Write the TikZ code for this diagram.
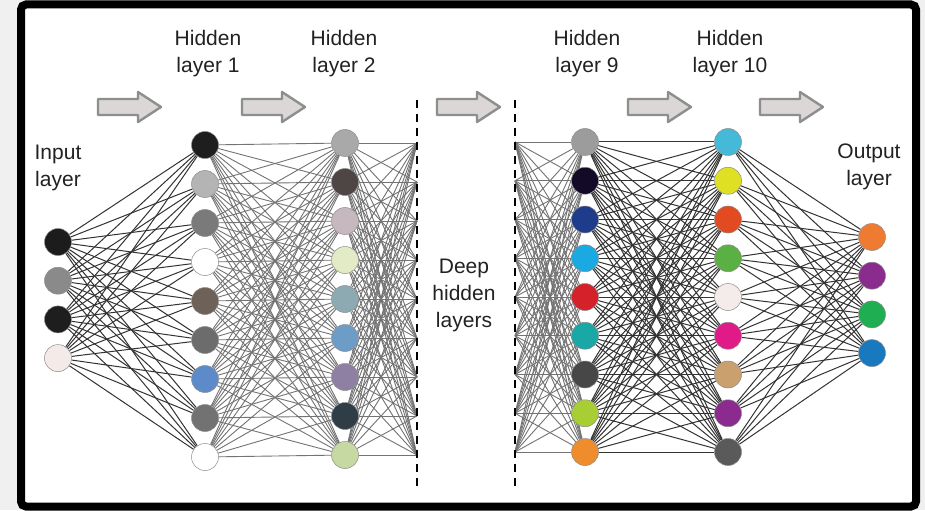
\documentclass[tikz,border=0pt]{standalone}
\usepackage{fontspec}
\setmainfont{Liberation Sans}
\usetikzlibrary{backgrounds}
\definecolor{outside}{HTML}{F0F0F0}
\definecolor{arrowfill}{HTML}{DCD7D7}
\definecolor{arrowedge}{HTML}{8E8E8E}
\definecolor{labeltext}{HTML}{222222}
\tikzset{
	ncol/.code={\definecolor{ncolor}{HTML}{#1}\tikzset{fill=ncolor}},
	neuron/.style={circle,minimum size=27pt,inner sep=0pt,draw=black!45,line width=0.5pt,ncol=#1},
	link/.style={black!80,line width=1pt},
	faint/.style={black!55,line width=0.9pt},
	flow/.style={fill=arrowfill,draw=arrowedge,line width=2.4pt,line join=round},
	lbl/.style={font=\fontsize{21}{27}\selectfont,align=center,text=labeltext}
}
\begin{document}
\begin{tikzpicture}[x=1pt,y=-1pt]
		%Pfeile oben
		\foreach \x in {98,242,437,628,760}
			\draw[flow] (\x,99) -- ++(40,0) -- ++(0,-7) -- ++(23,15) -- ++(-23,15) -- ++(0,-7) -- ++(-40,0) -- cycle;
		%Eingabeschicht
		\foreach \c [count=\i] in {1C1C1C,8A8A8A,1E1E1E,F4EBE8}
			\node[neuron=\c] (in\i) at (58,{242+38.7*(\i-1)}) {};
		%Hidden layer 1 und 2
		\foreach \c [count=\i] in {1E1E1E,B4B4B4,7A7A7A,FFFFFF,6E6258,6C6C6C,5D8BC9,727272,FFFFFF}
			\node[neuron=\c] (ha\i) at (205,{145+39*(\i-1)}) {};
		\foreach \c [count=\i] in {A9A9A9,4E4545,C7B7BF,E3EBC6,8DAAB2,6D9DC6,8E80A2,2F3D47,C6D9A2}
			\node[neuron=\c] (hb\i) at (345,{143+39*(\i-1)}) {};
		%Hidden layer 9 und 10
		\foreach \c [count=\i] in {9C9C9C,120A26,1F3C8C,1AA9E1,D5222A,19A8A6,474747,A7CF33,EF8C2B}
			\node[neuron=\c] (hc\i) at (585,{142+38.75*(\i-1)}) {};
		\foreach \c [count=\i] in {45B9D8,DFE024,E24B22,5BB043,F4ECEA,E01B88,C9A06E,8B2A8F,5A5A5A}
			\node[neuron=\c] (hd\i) at (728,{142+38.75*(\i-1)}) {};
		%Ausgabeschicht
		\foreach \c [count=\i] in {EF7A31,8A2B8E,1FAF52,1879BF}
			\node[neuron=\c] (out\i) at (872,{237+38.7*(\i-1)}) {};
		%Trennlinien
		\draw[line width=1.6pt,dash pattern=on 8pt off 6pt] (417,100) -- (417,486);
		\draw[line width=1.6pt,dash pattern=on 8pt off 6pt] (515,100) -- (515,486);
		\foreach \i in {1,...,9} {
			\coordinate (dl\i) at (417,{143+39*(\i-1)});
			\coordinate (dr\i) at (515,{142+38.75*(\i-1)});
		}
		%Rahmen und Verbindungen
		\begin{scope}[on background layer]
			\fill[outside] (0,0) rectangle (925,510);
			\fill[white] (21,4.5) rectangle (916,506.5);
			\draw[line width=8pt,rounded corners=5pt] (21,4.5) rectangle (916,506.5);
			\foreach \i in {1,...,4} \foreach \j in {1,...,9} \draw[link] (in\i) -- (ha\j);
			\foreach \i in {1,...,9} \foreach \j in {1,...,9} {
				\draw[faint] (ha\i) -- (hb\j);
				\draw[faint] (hb\i) -- (dl\j);
				\draw[faint] (dr\i) -- (hc\j);
				\draw[link] (hc\i) -- (hd\j);
			}
			\foreach \i in {1,...,9} \foreach \j in {1,...,4} \draw[link] (hd\i) -- (out\j);
		\end{scope}
		%Beschriftung
		\node[lbl] (tin) at (58,168) {Input\\layer};
		\node[lbl] (th1) at (208,54) {Hidden\\layer 1};
		\node[lbl] (th2) at (344,54) {Hidden\\layer 2};
		\node[lbl] (tdeep) at (464,295) {Deep\\hidden\\layers};
		\node[lbl] (th9) at (587,54) {Hidden\\layer 9};
		\node[lbl] (th10) at (730,54) {Hidden\\layer 10};
		\node[lbl] (tout) at (869,167) {Output\\layer};
\end{tikzpicture}
\end{document}
